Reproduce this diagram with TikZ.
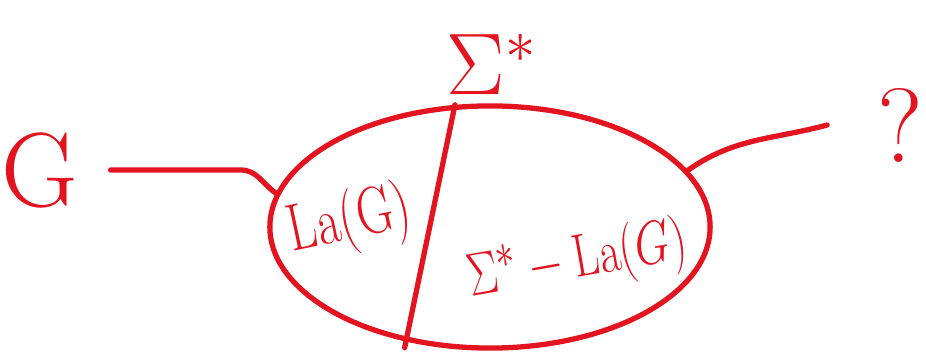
\documentclass[tikz,border=0pt]{standalone}
\usepackage{amsmath,amssymb}
\usepackage{graphicx}
\usetikzlibrary{shapes.geometric}
\definecolor{inkred}{HTML}{E3131F}
\begin{document}
\begin{tikzpicture}[x=0.01cm, y=-0.01cm,
  ink/.style={draw=inkred, line width=1.5pt, line cap=round, line join=round},
  big/.style={text=inkred, font=\fontsize{24}{28}\selectfont, inner sep=2pt},
  part/.style={text=inkred, font=\fontsize{19}{22}\selectfont, inner sep=1pt}]
  \useasboundingbox (0,0) rectangle (926,358);
  % Set of all strings
  \node[ink, ellipse, minimum width=4.4cm, minimum height=2.42cm, inner sep=0pt] (set) at (490,227) {};
  \node[big] (sigma) at (492,64) {$\Sigma^{*}$};
  % Input and output
  \node[big, font=\fontsize{30}{34}\selectfont] (g) at (40,170) {G};
  \node[big, font=\fontsize{30}{34}\selectfont] (q) at (900,125) {?};
  % Regions
  \node[part, rotate=12] (lang) at (350,222) {\scalebox{0.75}[1]{La(G)}};
  \node[part, rotate=10] (comp) at (578,262) {\scalebox{0.75}[1]{$\Sigma^{*}-\mathrm{La}(G)$}};
  % Divider
  \draw[ink] (set.106) -- ([shift={(-2,6)}]set.234);
  % Connectors
  \draw[ink] ([xshift=7pt]g.east) -- ++(130,0) to[out=0, in=145] (set.171);
  \draw[ink] (set.16) to[out=35, in=195] ([xshift=-12pt]q.west);
\end{tikzpicture}
\end{document}
